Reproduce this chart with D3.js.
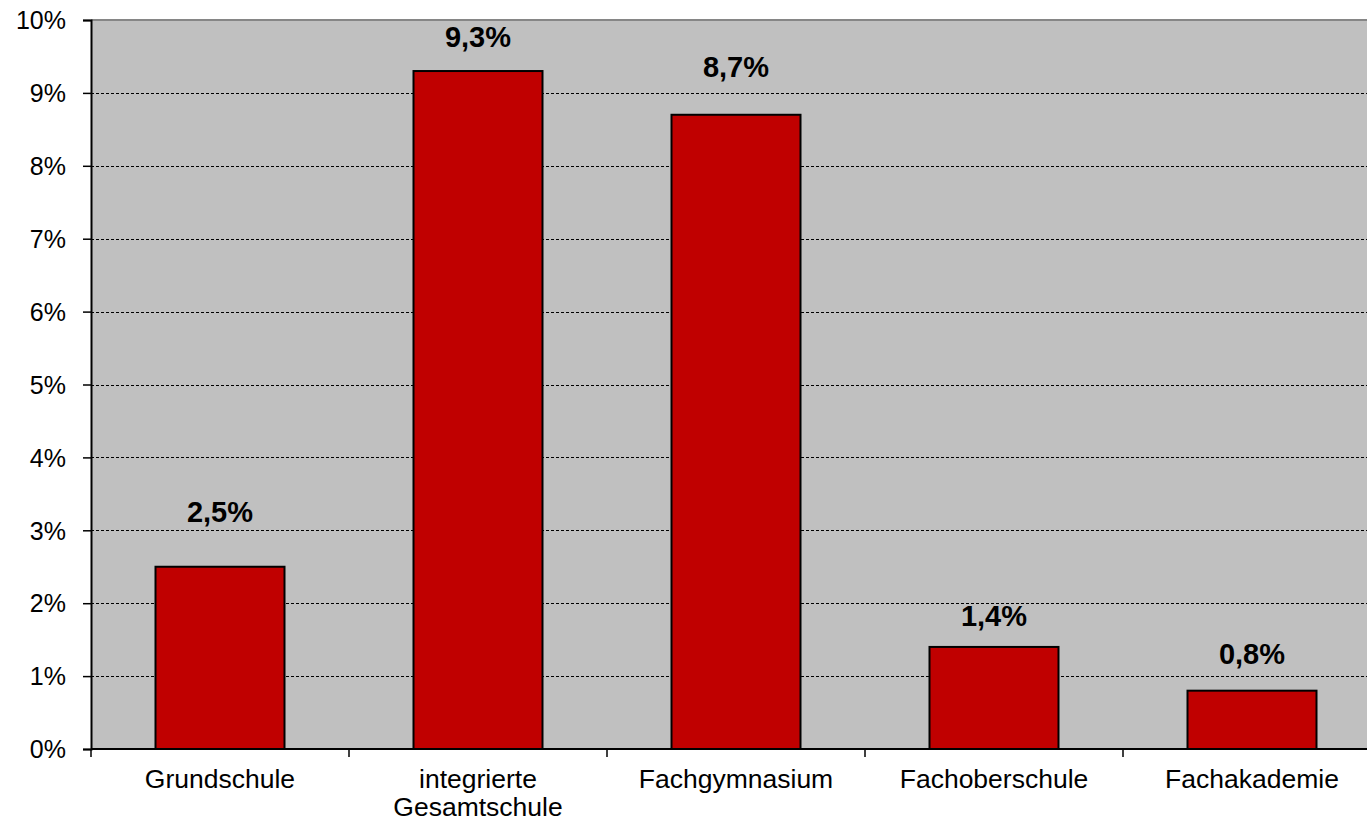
<!DOCTYPE html>
<html>
<head>
<meta charset="utf-8">
<script src="https://cdn.jsdelivr.net/npm/d3@7"></script>
<style>
  body { margin: 0; background: #fff; overflow: hidden; }
  text { font-family: "Liberation Sans", Arial, sans-serif; fill: #000; }
</style>
</head>
<body>
<div id="chart"></div>
<script>
// data
var categories = ["Grundschule", "integrierte\nGesamtschule", "Fachgymnasium", "Fachoberschule", "Fachakademie"];
var values = [2.5, 9.3, 8.7, 1.4, 0.8];
var tickValues = [0, 1, 2, 3, 4, 5, 6, 7, 8, 9, 10];

var data = categories.map(function(c, i) { return {cat: c, value: values[i]}; });

// the plot area runs a bit past the right edge of the picture
var margin = {top: 20, right: -14, bottom: 76, left: 91},
    width = 1367 - margin.left - margin.right,
    height = 825 - margin.top - margin.bottom;

var svg = d3.select("#chart").append("svg")
    .attr("width", 1367)
    .attr("height", 825)
    .style("display", "block")
    .append("g")
    .attr("transform", "translate(" + margin.left + "," + margin.top + ")");

var x = d3.scaleBand().domain(categories).range([0, width])
    .paddingInner(0.5).paddingOuter(0.25);
var y = d3.scaleLinear().domain([0, 10]).range([height, 0]);

// plot background
svg.append("rect")
    .attr("x", 0).attr("y", 0)
    .attr("width", width).attr("height", height)
    .attr("fill", "#c0c0c0");

// top border
svg.append("line")
    .attr("x1", 0).attr("x2", width)
    .attr("y1", 0).attr("y2", 0)
    .attr("stroke", "#868686").attr("stroke-width", 2);

// dashed gridlines
svg.selectAll(".grid")
    .data(tickValues.filter(function(d) { return d > 0 && d < 10; }))
    .enter().append("line")
    .attr("class", "grid")
    .attr("x1", 0).attr("x2", width)
    .attr("y1", function(d) { return Math.round(y(d)) + 0.5; })
    .attr("y2", function(d) { return Math.round(y(d)) + 0.5; })
    .attr("stroke", "#000")
    .attr("stroke-width", 1)
    .attr("stroke-dasharray", "3,2");

// bars
svg.selectAll(".bar")
    .data(data)
    .enter().append("rect")
    .attr("class", "bar")
    .attr("x", function(d) { return x(d.cat); })
    .attr("y", function(d) { return y(d.value); })
    .attr("width", x.bandwidth())
    .attr("height", function(d) { return height - y(d.value); })
    .attr("fill", "#c00000")
    .attr("stroke", "#000")
    .attr("stroke-width", 2);

// value labels (hand placed in the original, so the gap above each bar differs)
var labelGap = [45, 24, 38, 21, 27];
svg.selectAll(".val")
    .data(data)
    .enter().append("text")
    .attr("class", "val")
    .attr("x", function(d) { return x(d.cat) + x.bandwidth() / 2; })
    .attr("y", function(d, i) { return y(d.value) - labelGap[i]; })
    .attr("text-anchor", "middle")
    .style("font-size", "29px")
    .style("font-weight", "bold")
    .text(function(d) { return String(d.value.toFixed(1)).replace(".", ",") + "%"; });

// y axis
var yAxis = d3.axisLeft(y).tickValues(tickValues)
    .tickSize(8).tickPadding(17)
    .tickFormat(function(d) { return d + "%"; });
var gy = svg.append("g").attr("class", "y axis").call(yAxis);
gy.select(".domain").attr("stroke", "#000").attr("stroke-width", 2);
gy.selectAll(".tick line").attr("stroke", "#000").attr("stroke-width", 1.5);
gy.selectAll("text").style("font-size", "25px").attr("dy", "0.35em");

// x axis line and boundary ticks
var step = x.step();
svg.append("line")
    .attr("x1", 0).attr("x2", width)
    .attr("y1", height).attr("y2", height)
    .attr("stroke", "#000").attr("stroke-width", 2);
svg.selectAll(".xtick")
    .data(d3.range(categories.length + 1))
    .enter().append("line")
    .attr("class", "xtick")
    .attr("x1", function(i) { return i * step; })
    .attr("x2", function(i) { return i * step; })
    .attr("y1", height).attr("y2", height + 8)
    .attr("stroke", "#000").attr("stroke-width", 1.5);

// category labels
var cl = svg.selectAll(".cat")
    .data(data)
    .enter().append("text")
    .attr("class", "cat")
    .attr("x", function(d) { return x(d.cat) + x.bandwidth() / 2; })
    .attr("y", height + 39)
    .attr("text-anchor", "middle")
    .style("font-size", "26.5px");
cl.each(function(d) {
    var lines = d.cat.split("\n");
    var t = d3.select(this);
    lines.forEach(function(l, i) {
        t.append("tspan")
            .attr("x", x(d.cat) + x.bandwidth() / 2)
            .attr("dy", i === 0 ? 0 : 28)
            .text(l);
    });
});
</script>
</body>
</html>
